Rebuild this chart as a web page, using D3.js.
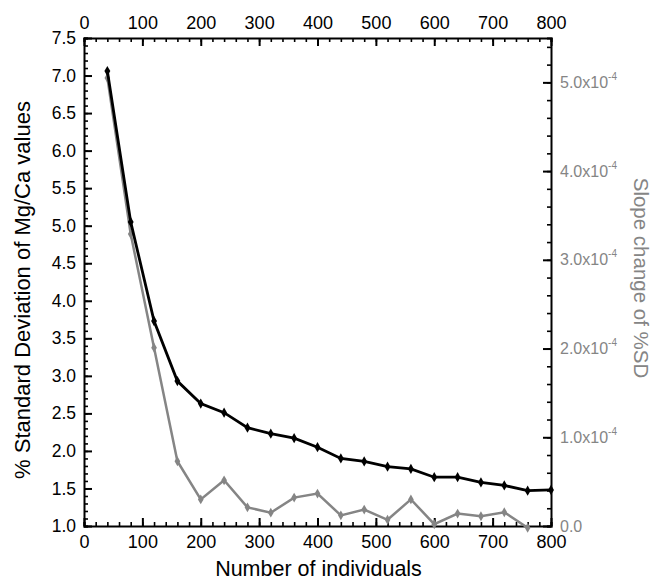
<!DOCTYPE html>
<html>
<head>
<meta charset="utf-8">
<script src="https://cdn.jsdelivr.net/npm/d3@7"></script>
<style>
  body { margin: 0; background: #fff; }
  svg { font-family: "Liberation Sans", Arial, sans-serif; }
</style>
</head>
<body>
<svg id="chart" width="654" height="580"></svg>
<script>
// number of individuals
const individuals = [40, 80, 120, 160, 200, 240, 280, 320, 360, 400, 440, 480, 520, 560, 600, 640, 680, 720, 760, 800];
// % SD of Mg/Ca (left axis)
const sdValues = [7.06, 5.05, 3.73, 2.93, 2.63, 2.51, 2.31, 2.23, 2.17, 2.05, 1.90, 1.86, 1.79, 1.76, 1.65, 1.65, 1.58, 1.54, 1.47, 1.48];
// slope change of %SD (right axis, x1e-4), no value at 800
const slopeValues = [5.05, 3.29, 2.01, 0.73, 0.30, 0.515, 0.21, 0.15, 0.32, 0.365, 0.12, 0.185, 0.07, 0.30, 0.02, 0.14, 0.11, 0.155, -0.02];

const leftTicks = [1.0, 1.5, 2.0, 2.5, 3.0, 3.5, 4.0, 4.5, 5.0, 5.5, 6.0, 6.5, 7.0, 7.5];
const rightTicks = [0, 1, 2, 3, 4, 5];
const xTicks = [0, 100, 200, 300, 400, 500, 600, 700, 800];

const grey = "#858585";
const margin = { top: 38, right: 103, bottom: 54, left: 84 };
const width = 654, height = 580;

const svg = d3.select("#chart");

const x = d3.scaleLinear([0, 800], [margin.left, width - margin.right]);
const yL = d3.scaleLinear([1, 7.5], [height - margin.bottom, margin.top]);
const yR = d3.scaleLinear([0, 5.5], [height - margin.bottom, margin.top]);

const fmt1 = d3.format(".1f");

// axes with inward ticks
function drawAxis(axisFn, scale, pos, majors, minorStep, labels) {
  const minors = d3.range(scale.domain()[0], scale.domain()[1] + 1e-9, minorStep);
  const g = svg.append("g").attr("transform", pos);
  g.call(axisFn(scale).tickValues(minors).tickSize(-4).tickFormat(""));
  g.selectAll(".tick line").attr("stroke-width", 1.6);
  const g2 = svg.append("g").attr("transform", pos);
  g2.call(axisFn(scale).tickValues(majors).tickSize(-8).tickPadding(12).tickFormat(labels));
  g2.selectAll(".tick line").attr("stroke-width", 2);
  g.select(".domain").attr("stroke-width", 2);
  g2.select(".domain").remove();
  return g2;
}

const axBottom = drawAxis(d3.axisBottom, x, `translate(0,${height - margin.bottom})`, xTicks, 20, d3.format("d"));
axBottom.selectAll("text").attr("font-size", 18).attr("fill", "#000").attr("dy", "0.55em");

const axTop = drawAxis(d3.axisTop, x, `translate(0,${margin.top})`, xTicks, 20, d3.format("d"));
axTop.selectAll("text").attr("font-size", 18).attr("fill", "#000").attr("dy", "0.15em");

const axLeft = drawAxis(d3.axisLeft, yL, `translate(${margin.left},0)`, leftTicks, 0.1, fmt1);
axLeft.selectAll("text").attr("font-size", 17.5).attr("fill", "#000").attr("x", -8);

const axRight = drawAxis(d3.axisRight, yR, `translate(${width - margin.right},0)`, rightTicks, 0.2, () => "");
axRight.selectAll(".tick text").each(function (d) {
  const t = d3.select(this).attr("font-size", 16).attr("fill", grey).attr("x", 9);
  if (d === 0) { t.text("0.0"); return; }
  t.text(fmt1(d) + "x10");
  t.append("tspan").attr("font-size", 10).attr("dy", "-0.8em").text("-4");
});

// titles
svg.append("text")
  .attr("x", x(400) + 1).attr("y", 576)
  .attr("text-anchor", "middle").attr("font-size", 21.5)
  .text("Number of individuals");

svg.append("text")
  .attr("transform", "translate(30,290) rotate(-90)")
  .attr("text-anchor", "middle").attr("font-size", 22)
  .text("% Standard Deviation of Mg/Ca values");

svg.append("text")
  .attr("transform", "translate(634,278) rotate(90)")
  .attr("text-anchor", "middle").attr("font-size", 20.5).attr("fill", grey)
  .text("Slope change of %SD");

// series
const slopeData = slopeValues.map((v, i) => [individuals[i], v]);
const sdData = sdValues.map((v, i) => [individuals[i], v]);

svg.append("path")
  .datum(slopeData)
  .attr("fill", "none").attr("stroke", grey).attr("stroke-width", 2.5)
  .attr("d", d3.line(d => x(d[0]), d => yR(d[1])));
svg.append("g").selectAll("path").data(slopeData).join("path")
  .attr("transform", d => `translate(${x(d[0])},${yR(d[1])})`)
  .attr("d", d3.symbol(d3.symbolDiamond, 28))
  .attr("fill", grey);

svg.append("path")
  .datum(sdData)
  .attr("fill", "none").attr("stroke", "#000").attr("stroke-width", 2.8)
  .attr("d", d3.line(d => x(d[0]), d => yL(d[1])));
svg.append("g").selectAll("path").data(sdData).join("path")
  .attr("transform", d => `translate(${x(d[0])},${yL(d[1])})`)
  .attr("d", d3.symbol(d3.symbolDiamond, 30))
  .attr("fill", "#000");
</script>
</body>
</html>
